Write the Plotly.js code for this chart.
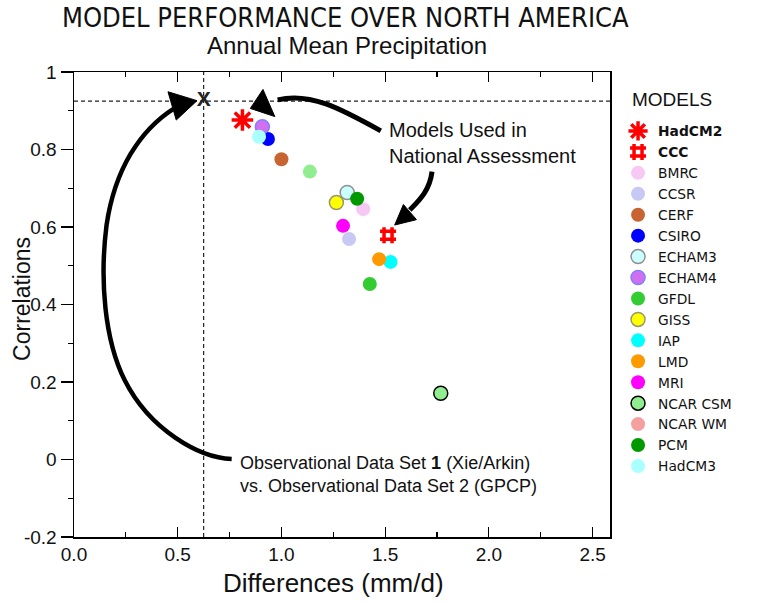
<!DOCTYPE html>
<html>
<head>
<meta charset="utf-8">
<script src="https://cdn.plot.ly/plotly-3.0.1.min.js"></script>
<style>html,body{margin:0;padding:0;background:#fff;}#chart{width:764px;height:604px;}</style>
</head>
<body>
<div id="chart"></div>
<script>
// ---- data ----
const models = ['<b>HadCM2</b>','<b>CCC</b>','BMRC','CCSR','CERF','CSIRO','ECHAM3','ECHAM4','GFDL','GISS','IAP','LMD','MRI','NCAR CSM','NCAR WM','PCM','HadCM3'];
const differences = [0.812,1.514,1.394,1.326,1.000,0.935,1.317,0.908,1.426,1.265,1.526,1.471,1.297,1.768,1.137,1.365,0.892];
const correlations = [0.876,0.579,0.646,0.569,0.775,0.827,0.689,0.859,0.453,0.663,0.510,0.517,0.603,0.171,0.743,0.673,0.833];
const legendColors = ['#ff0000','#ff0000','#f8c8f4','#c8c8f4','#c86432','#0000ff','#ccffff','#d070f0','#33cc33','#ffff00','#00ffff','#ff9900','#ff00ff','#90ee90','#f4a0a0','#009900','#aaffff'];
const plotColors   = ['#ff0000','#ff0000','#f8c8f4','#c8c8f4','#c86432','#0000ff','#ccffff','#d070f0','#33cc33','#ffff00','#00ffff','#ff9900','#ff00ff','#90ee90','#90ee90','#009900','#aaffff'];
const outlineColors = [null,null,null,null,null,null,'#909090','#8080ff',null,'#999966',null,null,null,'#000000',null,null,null];
const symbols = ['asterisk-open','hash-open','circle','circle','circle','circle','circle','circle','circle','circle','circle','circle','circle','circle','circle','circle','circle'];
const obsX = [0.625];   // Obs data set 1 vs 2 difference
const obsY = [0.925];   // Obs data set 1 vs 2 correlation
const xTicks = [0.0,0.5,1.0,1.5,2.0,2.5];
const yTicks = [-0.2,0,0.2,0.4,0.6,0.8,1];

const FONT = 'Liberation Sans, Arial, sans-serif';
const TFONT = 'DejaVu Sans Condensed, Liberation Sans, Arial, sans-serif';
const LFONT = 'DejaVu Sans, Liberation Sans, Arial, sans-serif';

const traces = [];
models.forEach((m,i)=>{
  const isLine = symbols[i] !== 'circle';
  const marker = isLine
    ? {symbol: symbols[i], size: i===0?18:16, color: plotColors[i], line:{color: plotColors[i], width: 3.5}}
    : {symbol: 'circle', size: 14, color: plotColors[i], line:{color: outlineColors[i] || plotColors[i], width: outlineColors[i]?1.5:0}};
  const same = legendColors[i] === plotColors[i];
  traces.push({type:'scatter', mode:'markers', name:m, x:[differences[i]], y:[correlations[i]],
    marker: marker, showlegend: same, legendrank: i+1, hoverinfo:'name+x+y'});
  if(!same){
    traces.push({type:'scatter', mode:'markers', name:m, x:[null], y:[null], legendrank: i+1,
      marker:{symbol:'circle', size:14, color: legendColors[i], line:{width:0}}});
  }
});
traces.push({type:'scatter', mode:'text', x:obsX, y:obsY, text:['<b>X</b>'], showlegend:false,
  textfont:{family:'Liberation Sans, Arial, sans-serif', size:21, color:'#222'}, hoverinfo:'x+y'});

function P(x,y){return x+','+y;}
const arrow1 = 'M'+P(1.479,0.848)+' C'+P(1.281,0.907)+' '+P(1.137,0.948)+' '+P(0.982,0.928);
const head1 = 'M'+P(0.850,0.906)+' L'+P(0.911,0.955)+' L'+P(0.968,0.885)+' Z';
const arrow2 = 'M'+P(1.726,0.743)+' C'+P(1.715,0.695)+' '+P(1.667,0.670)+' '+P(1.619,0.644);
const head2 = 'M'+P(1.546,0.605)+' L'+P(1.588,0.658)+' L'+P(1.651,0.619)+' Z';
const arrow3 = 'M'+P(0.760,0.0013)+' C'+P(0.606,0.0039)+' '+P(0.365,0.076)+' '+P(0.244,0.205)+
  ' C'+P(0.148,0.308)+' '+P(0.123,0.463)+' '+P(0.157,0.605)+
  ' C'+P(0.196,0.747)+' '+P(0.316,0.850)+' '+P(0.485,0.907);
const head3 = 'M'+P(0.593,0.926)+' L'+P(0.453,0.949)+' L'+P(0.493,0.876)+' Z';

const shapes = [
  {type:'line', xref:'paper', yref:'y', x0:0, x1:1, y0:obsY[0], y1:obsY[0], line:{color:'#222', width:1.2, dash:'4px,3px'}, layer:'below'},
  {type:'line', xref:'x', yref:'paper', x0:obsX[0], x1:obsX[0], y0:0, y1:1, line:{color:'#222', width:1.2, dash:'4px,3px'}, layer:'below'},
  {type:'path', xref:'x', yref:'y', path:arrow1, line:{color:'#000', width:5}},
  {type:'path', xref:'x', yref:'y', path:head1, fillcolor:'#000', line:{color:'#000', width:1}},
  {type:'path', xref:'x', yref:'y', path:arrow2, line:{color:'#000', width:5}},
  {type:'path', xref:'x', yref:'y', path:head2, fillcolor:'#000', line:{color:'#000', width:1}},
  {type:'path', xref:'x', yref:'y', path:arrow3, line:{color:'#000', width:4.5}},
  {type:'path', xref:'x', yref:'y', path:head3, fillcolor:'#000', line:{color:'#000', width:1}}
];

const layout = {
  width:764, height:604,
  margin:{l:74, r:154, t:72, b:67},
  paper_bgcolor:'#fff', plot_bgcolor:'#fff',
  font:{family:FONT, color:'#111'},
  title:{text:'MODEL PERFORMANCE OVER NORTH AMERICA', font:{family:TFONT, size:27, color:'#111'},
    x:0.452, xanchor:'center', y:0.986, yanchor:'top'},
  xaxis:{range:[0,2.584], tickvals:xTicks, ticktext:xTicks.map(v=>v.toFixed(1)), ticks:'inside', ticklen:10, tickwidth:1.2, tickcolor:'#000',
    minor:{dtick:0.25, tick0:0, ticks:'inside', ticklen:5, tickcolor:'#000'},
    showline:true, linecolor:'#000', linewidth:1.5, mirror:'ticks', showgrid:false, zeroline:false,
    tickfont:{family:FONT, size:19, color:'#111'}},
  yaxis:{range:[-0.2,1], tickvals:yTicks, ticktext:['-0.2','0','0.2','0.4','0.6','0.8','1'], ticks:'outside', ticklen:12, tickwidth:1.2, tickcolor:'#000',
    minor:{dtick:0.1, tick0:0, ticks:'outside', ticklen:5, tickcolor:'#000'},
    showline:true, linecolor:'#000', linewidth:1.5, mirror:true, showgrid:false, zeroline:false,
    tickfont:{family:FONT, size:19, color:'#111'}},
  legend:{x:1.015, xanchor:'left', y:0.9065, yanchor:'top', bgcolor:'rgba(0,0,0,0)', borderwidth:0,
    font:{family:LFONT, size:13.8, color:'#111'}, traceorder:'normal'},
  shapes: shapes,
  annotations:[
    {text:'Annual Mean Precipitation', xref:'paper', yref:'paper', x:0.509, y:1.0, yshift:11, xanchor:'center', yanchor:'bottom', showarrow:false,
      font:{family:FONT, size:24, color:'#111'}},
    {text:'Differences (mm/d)', xref:'paper', yref:'paper', x:0.485, y:-0.099, xanchor:'center', yanchor:'middle', showarrow:false,
      font:{family:FONT, size:26, color:'#111'}},
    {text:'Correlations', xref:'paper', yref:'paper', x:-0.097, y:0.512, xanchor:'center', yanchor:'middle', textangle:-90, showarrow:false,
      font:{family:FONT, size:23, color:'#111'}},
    {text:'MODELS', xref:'paper', yref:'paper', x:1.037, y:0.9398, xanchor:'left', yanchor:'middle', showarrow:false,
      font:{family:FONT, size:19, color:'#111'}},
    {text:'Models Used in<br>National Assessment', xref:'x', yref:'y', x:1.508, y:0.817, xanchor:'left', yanchor:'middle', align:'left', showarrow:false,
      font:{family:FONT, size:20, color:'#111'}},
    {text:'Observational Data Set <b>1</b> (Xie/Arkin)<br>vs. Observational Data Set 2 (GPCP)', xref:'x', yref:'y', x:0.789, y:-0.039, xanchor:'left', yanchor:'middle', align:'left', showarrow:false,
      font:{family:FONT, size:18, color:'#111'}}
  ],
  showlegend:true
};

Plotly.newPlot('chart', traces, layout, {displayModeBar:false, staticPlot:true});
</script>
</body>
</html>
